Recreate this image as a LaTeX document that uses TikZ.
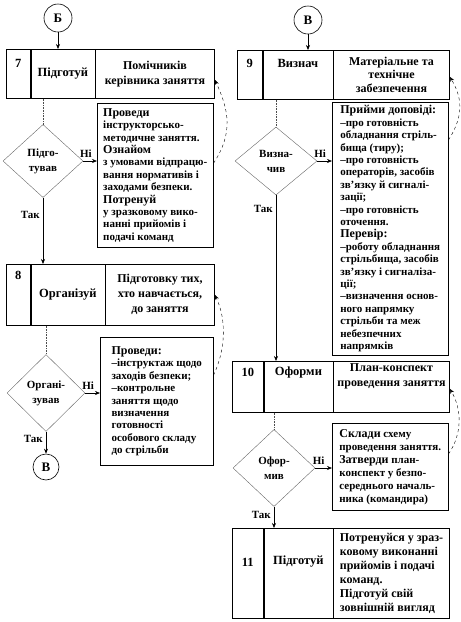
\documentclass[tikz,border=0pt]{standalone}
\usepackage{fontspec}
\setmainfont{Liberation Serif}
\usepackage{tikz}
\usetikzlibrary{shapes.geometric,arrows.meta,positioning,calc}

\begin{document}
\begin{tikzpicture}[x=1pt, y=1pt,
    cell/.style={draw, rectangle, anchor=north west, inner sep=2pt, line width=0.6pt, align=center, font=\bfseries\fontsize{12}{15}\selectfont},
    verbcell/.style={cell, font=\bfseries\fontsize{12.5}{15}\selectfont},
    toplab/.style={anchor=center, inner sep=0pt, font=\bfseries\fontsize{12.5}{15}\selectfont},
    notebox/.style={draw, rectangle, anchor=north west, line width=0.5pt, align=left, inner sep=3pt, font=\bfseries\fontsize{11}{12.4}\selectfont},
    keyword/.style={},
    test/.style={draw=black!60, diamond, inner sep=0pt, align=center, font=\bfseries\fontsize{11}{15}\selectfont},
    link/.style={circle, draw, line width=0.6pt, minimum size=28pt, inner sep=0pt, font=\bfseries\fontsize{13}{15}\selectfont},
    flow/.style={-{Stealth[length=5pt,width=4pt]}, line width=0.6pt},
    dots/.style={densely dotted, line width=0.6pt, black!70},
    back/.style={-{Stealth[length=5pt,width=4pt]}, dashed, line width=0.4pt},
    yeslab/.style={left=2pt, inner sep=1pt, font=\bfseries\fontsize{11}{12}\selectfont},
    nolab/.style={above=2pt, inner sep=1pt, font=\bfseries\fontsize{11}{12}\selectfont}
]
    \useasboundingbox (0,0) rectangle (461,-622);

    % left column
    \node[link] (cb) at (58,-18) {Б};

    \node[cell, minimum width=24pt, minimum height=49pt, label={[toplab, yshift=-14pt]north:7}] (n7) at (6,-49) {};
    \node[verbcell, minimum width=64pt, minimum height=49pt] (v7) at (n7.north east) {Підготуй};
    \node[cell, minimum width=119pt, minimum height=49pt] (o7) at (v7.north east) {Помічників\\керівника заняття};

    \node[test, minimum width=80pt, minimum height=73pt] (d1) at (43,-161) {Підго-\\тував};
    \node[notebox, minimum width=116pt, minimum height=144pt] (b1) at (97,-103) {{\large Проведи}\\інструкторсько-\\методичне заняття.\\{\large Ознайом}\\з умовами відпрацю-\\вання нормативів і\\заходами безпеки.\\{\large Потренуй}\\у зразковому вико-\\нанні прийомів і\\подачі команд};

    \node[cell, minimum width=24pt, minimum height=61pt, label={[toplab, yshift=-11pt]north:8}] (n8) at (6,-264) {};
    \node[verbcell, minimum width=74pt, minimum height=61pt] (v8) at (n8.north east) {Організуй};
    \node[cell, minimum width=109pt, minimum height=61pt] (o8) at (v8.north east) {Підготовку тих,\\хто навчається,\\до заняття};

    \node[test, minimum width=78pt, minimum height=77pt] (d2) at (46,-393) {Органі-\\зував};
    \node[notebox, minimum width=113pt, minimum height=128pt] (b2) at (100,-337) {{\large Проведи:}\\–інструктаж щодо\\заходів безпеки;\\–контрольне\\заняття щодо\\визначення\\готовності\\особового складу\\до стрільби};
    \node[link, minimum size=26pt] (cv2) at (46,-467) {В};

    % right column
    \node[link] (cv) at (308,-20) {В};

    \node[cell, minimum width=25pt, minimum height=49pt, label={[toplab, yshift=-13pt]north:9}] (n9) at (237,-50) {};
    \node[verbcell, minimum width=70pt, minimum height=49pt, label={[toplab, yshift=-13pt]north:Визнач}] (v9) at (n9.north east) {};
    \node[cell, minimum width=116pt, minimum height=49pt, font=\bfseries\fontsize{12}{13.5}\selectfont] (o9) at (v9.north east) {Матеріальне та\\технічне\\забезпечення};

    \node[test, minimum width=82pt, minimum height=68pt] (d3) at (276,-161) {Визна-\\чив};
    \node[notebox, minimum width=116pt, minimum height=253pt] (b3) at (332,-102) {{\large Прийми доповіді:}\\–про готовність\\обладнання стріль-\\бища (тиру);\\–про готовність\\операторів, засобів\\зв'язку й сигналі-\\зації;\\–про готовність\\оточення.\\{\large Перевір:}\\–роботу обладнання\\стрільбища, засобів\\зв'язку і сигналіза-\\ції;\\–визначення основ-\\ного напрямку\\стрільби та меж\\небезпечних\\напрямків};

    \node[cell, minimum width=31pt, minimum height=51pt, label={[toplab, yshift=-11pt]north:10}] (n10) at (232,-361) {};
    \node[verbcell, minimum width=69pt, minimum height=51pt, label={[toplab, yshift=-11pt]north:Оформи}] (v10) at (n10.north east) {};
    \node[cell, minimum width=116pt, minimum height=51pt] (o10) at (v10.north east) {План-конспект\\проведення заняття\\[8pt]};

    \node[test, minimum width=82pt, minimum height=77pt] (d4) at (274,-468) {Офор-\\мив};
    \node[notebox, minimum width=116pt, minimum height=87pt, font=\bfseries\fontsize{11}{13}\selectfont] (b4) at (332,-423) {{\large Склади} схему\\проведення заняття.\\{\large Затверди} план-\\конспект у безпо-\\середнього началь-\\ника (командира)};

    \node[cell, minimum width=31pt, minimum height=90pt, label={[toplab, yshift=-34pt]north:11}] (n11) at (232,-528) {};
    \node[verbcell, minimum width=69pt, minimum height=90pt, label={[toplab, yshift=-34pt]north:Підготуй}] (v11) at (n11.north east) {};
    \node[cell, minimum width=116pt, minimum height=90pt, align=left, font=\bfseries\fontsize{12}{14}\selectfont] (o11) at (v11.north east) {Потренуйся у зраз-\\ковому виконанні\\прийомів і подачі\\команд.\\Підготуй свій\\зовнішній вигляд};

    % connectors, left
    \draw[flow] (cb) -- (cb |- v7.north);
    \draw[dots] (v7.south -| d1) -- (d1.north);
    \draw[flow] (d1.south) -- node[yeslab, pos=0.26] {Так} (d1.south |- v8.north);
    \draw[flow] (d1.east) -- node[nolab, pos=0.2] {Ні} (d1.east -| b1.west);
    \draw[back] ([yshift=12pt]b1.east) .. controls +(20,30) and +(14,-30) .. ([yshift=-6pt]o7.east);
    \draw[dots] (v8.south -| d2) -- (d2.north);
    \draw[flow] (d2.south) -- node[yeslab, pos=0.35] {Так} (cv2);
    \draw[flow] (d2.east) -- node[nolab, pos=0.2] {Ні} (d2.east -| b2.west);
    \draw[back] ([yshift=26pt]b2.east) .. controls +(12,25) and +(12,-25) .. (o8.east);

    % connectors, right
    \draw[flow] (cv) -- (cv |- v9.north);
    \draw[dots] (v9.south -| d3) -- (d3.north);
    \draw[flow] (d3.south) -- node[yeslab, pos=0.08] {Так} (d3.south |- v10.north);
    \draw[flow] (d3.east) -- node[nolab, pos=0.2] {Ні} (d3.east -| b3.west);
    \draw[back] ([yshift=-38pt]b3.north east) .. controls +(16,25) and +(12,-20) .. ([yshift=-2pt]o9.east);
    \draw[dots] (v10.south -| d4) -- (d4.north);
    \draw[flow] (d4.south) -- node[yeslab, pos=0.4] {Так} (d4.south |- v11.north);
    \draw[flow] (d4.east) -- node[nolab, pos=0.2] {Ні} (d4.east -| b4.west);
    \draw[back] ([yshift=-31pt]b4.north east) .. controls +(14,20) and +(12,-20) .. ([yshift=-2pt]o10.east);
\end{tikzpicture}
\end{document}
